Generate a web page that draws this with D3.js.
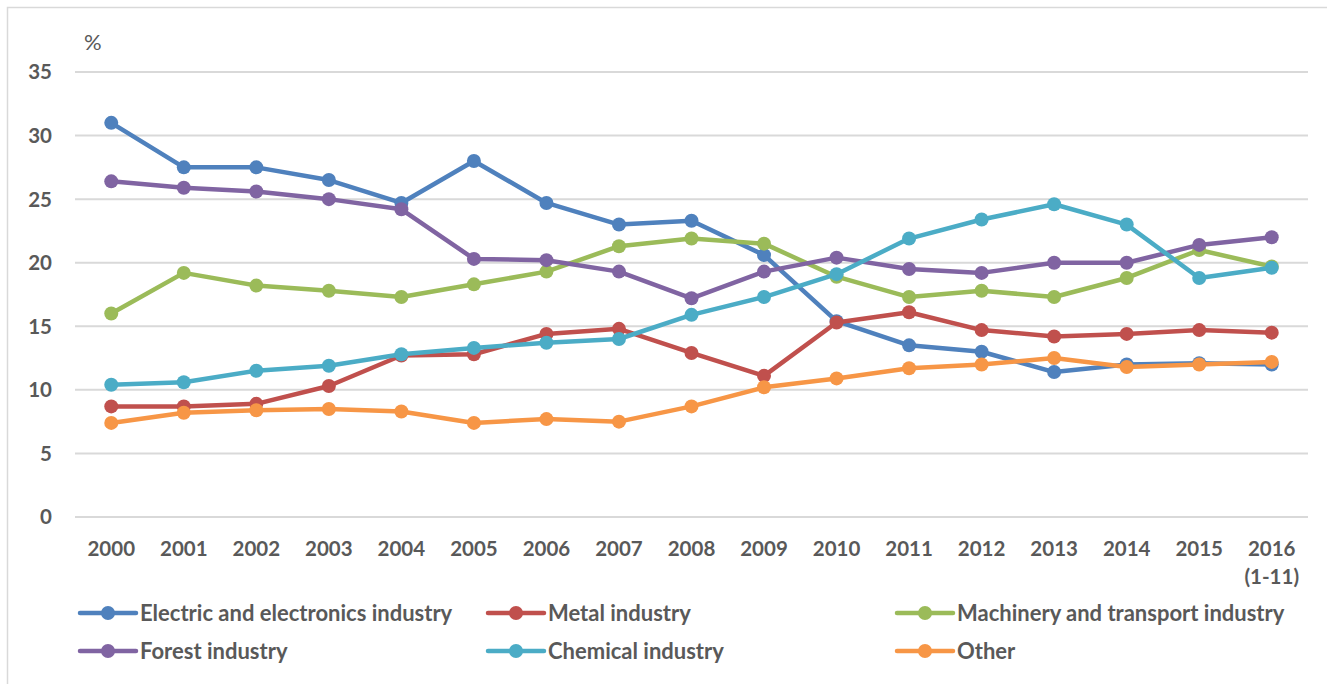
<!DOCTYPE html>
<html>
<head>
<meta charset="utf-8">
<script src="https://cdn.jsdelivr.net/npm/d3@7"></script>
<style>
  body { margin: 0; background: #fff; }
  svg { display: block; font-family: Lato, "Open Sans", sans-serif; }
</style>
</head>
<body>
<svg id="chart" width="1327" height="684"></svg>
<script>
    var years = ['2000', '2001', '2002', '2003', '2004', '2005', '2006', '2007', '2008',
        '2009', '2010', '2011', '2012', '2013', '2014', '2015', '2016'];
    var yearSub = {'2016': '(1-11)'};
    var yTicks = [0, 5, 10, 15, 20, 25, 30, 35];

    var seriesNames = ['Electric and electronics industry', 'Metal industry', 'Machinery and transport industry',
        'Forest industry', 'Chemical industry', 'Other'];
    var seriesColors = ['#4F81BD', '#C0504D', '#9BBB59', '#8064A2', '#4BACC6', '#F79646'];

    var electric = [31.0, 27.5, 27.5, 26.5, 24.7, 28.0, 24.7, 23.0, 23.3, 20.6, 15.4, 13.5, 13.0, 11.4, 12.0, 12.1, 12.0];
    var metal = [8.7, 8.7, 8.9, 10.3, 12.7, 12.8, 14.4, 14.8, 12.9, 11.1, 15.3, 16.1, 14.7, 14.2, 14.4, 14.7, 14.5];
    var machinery = [16.0, 19.2, 18.2, 17.8, 17.3, 18.3, 19.3, 21.3, 21.9, 21.5, 18.9, 17.3, 17.8, 17.3, 18.8, 21.0, 19.7];
    var forest = [26.4, 25.9, 25.6, 25.0, 24.2, 20.3, 20.2, 19.3, 17.2, 19.3, 20.4, 19.5, 19.2, 20.0, 20.0, 21.4, 22.0];
    var chemical = [10.4, 10.6, 11.5, 11.9, 12.8, 13.3, 13.7, 14.0, 15.9, 17.3, 19.1, 21.9, 23.4, 24.6, 23.0, 18.8, 19.6];
    var other = [7.4, 8.2, 8.4, 8.5, 8.3, 7.4, 7.7, 7.5, 8.7, 10.2, 10.9, 11.7, 12.0, 12.5, 11.8, 12.0, 12.2];

    var allSeries = [electric, metal, machinery, forest, chemical, other];

    var svg = d3.select('#chart');
    var textColor = '#595959';

    // chart frame
    svg.append('rect').attr('x', 7.5).attr('y', 7.5).attr('width', 1325).attr('height', 700)
        .attr('fill', 'none').attr('stroke', '#d9d9d9').attr('stroke-width', 1.5);

    var x = d3.scaleBand().domain(years).range([75, 1308]);
    var y = d3.scaleLinear().domain([0, 35]).range([517, 72]);

    // gridlines
    svg.append('g').selectAll('line').data(yTicks).enter().append('line')
        .attr('x1', 75).attr('x2', 1308)
        .attr('y1', function (d) { return y(d); }).attr('y2', function (d) { return y(d); })
        .attr('stroke', '#d9d9d9').attr('stroke-width', 2);

    // y labels
    svg.append('g').selectAll('text').data(yTicks).enter().append('text')
        .attr('x', 52).attr('y', function (d) { return y(d); }).attr('dy', '0.36em')
        .attr('text-anchor', 'end').attr('fill', textColor)
        .attr('font-size', 20.5).attr('font-weight', 'bold')
        .text(function (d) { return d; });

    svg.append('text').attr('x', 84).attr('y', 50).attr('fill', textColor)
        .attr('font-size', 22).text('%');

    // x labels
    var xl = svg.append('g').selectAll('text').data(years).enter().append('text')
        .attr('x', function (d) { return x(d) + x.bandwidth() / 2; }).attr('y', 556)
        .attr('text-anchor', 'middle').attr('fill', textColor)
        .attr('font-size', 20.5).attr('font-weight', 'bold');
    xl.append('tspan').text(function (d) { return d; });
    xl.filter(function (d) { return yearSub[d]; }).append('tspan')
        .attr('x', function (d) { return x(d) + x.bandwidth() / 2; }).attr('dy', 28)
        .text(function (d) { return yearSub[d]; });

    var line = d3.line()
        .x(function (d, i) { return x(years[i]) + x.bandwidth() / 2; })
        .y(function (d) { return y(d); });

    allSeries.forEach(function (vals, k) {
        var g = svg.append('g');
        g.append('path').attr('d', line(vals)).attr('fill', 'none')
            .attr('stroke', seriesColors[k]).attr('stroke-width', 4.5).attr('stroke-linejoin', 'round');
        g.selectAll('circle').data(vals).enter().append('circle')
            .attr('cx', function (d, i) { return x(years[i]) + x.bandwidth() / 2; })
            .attr('cy', function (d) { return y(d); })
            .attr('r', 7).attr('fill', seriesColors[k]);
    });

    // legend
    var legX = [80, 488, 897], legY = [613, 651];
    seriesNames.forEach(function (name, k) {
        var lx = legX[k % 3], ly = legY[Math.floor(k / 3)];
        var g = svg.append('g');
        g.append('line').attr('x1', lx).attr('x2', lx + 56).attr('y1', ly).attr('y2', ly)
            .attr('stroke', seriesColors[k]).attr('stroke-width', 4.5).attr('stroke-linecap', 'round');
        g.append('circle').attr('cx', lx + 28).attr('cy', ly).attr('r', 7).attr('fill', seriesColors[k]);
        g.append('text').attr('x', lx + 60).attr('y', ly).attr('dy', '0.36em')
            .attr('fill', textColor).attr('font-size', 22).attr('font-weight', 'bold').text(name);
    });
</script>
</body>
</html>
